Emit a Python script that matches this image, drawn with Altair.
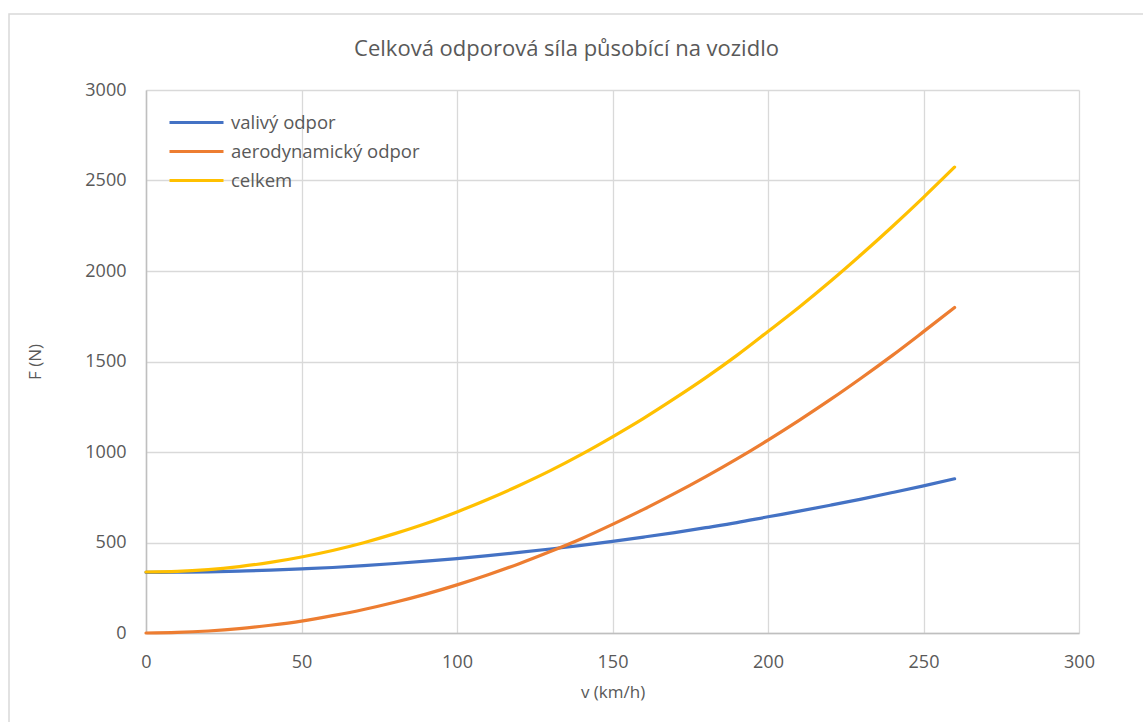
import altair as alt
import pandas as pd

# Speed samples (km/h)
speed = [0, 10, 20, 30, 40, 50, 60, 70, 80, 90, 100, 110, 120, 130,
         140, 150, 160, 170, 180, 190, 200, 210, 220, 230, 240, 250, 260]

# Resistance forces (N)
rolling = [335, 336, 338, 342, 347, 354, 362, 372, 384, 397, 411, 427, 445, 464,
           484, 506, 530, 555, 582, 610, 642, 673, 706, 740, 776, 813, 852]
aero = [0, 3, 11, 24, 43, 66, 96, 130, 170, 215, 266, 322, 383, 450,
        521, 600, 683, 771, 864, 962, 1066, 1175, 1289, 1409, 1534, 1665, 1798]
total = [337, 340, 350, 367, 390, 420, 456, 499, 549, 605, 669, 739, 815, 897,
         987, 1084, 1186, 1296, 1411, 1534, 1666, 1800, 1942, 2091, 2246, 2407, 2574]

series_names = ["valivý odpor", "aerodynamický odpor", "celkem"]
series_colors = ["#4472C4", "#ED7D31", "#FFC000"]

x_ticks = [0, 50, 100, 150, 200, 250, 300]
y_ticks = [0, 500, 1000, 1500, 2000, 2500, 3000]

rows = []
for name, values in zip(series_names, [rolling, aero, total]):
    for v, f in zip(speed, values):
        rows.append({"v": v, "F": f, "series": name, "order": series_names.index(name)})
df = pd.DataFrame(rows)

FONT = "Open Sans"
TXT = "#595959"

lines = alt.Chart(df).mark_line(
    strokeWidth=3.2, interpolate="monotone", strokeCap="round", strokeJoin="round"
).encode(
    x=alt.X("v:Q", title="v (km/h)",
            scale=alt.Scale(domain=[0, 300], nice=False),
            axis=alt.Axis(values=x_ticks, tickSize=0, labelFlush=False,
                          labelPadding=20, titlePadding=13)),
    y=alt.Y("F:Q", title="F (N)",
            scale=alt.Scale(domain=[0, 3000], nice=False),
            axis=alt.Axis(values=y_ticks, tickSize=0, format="d", labelFlush=False,
                          labelPadding=20, titlePadding=40)),
    color=alt.Color("series:N",
                    scale=alt.Scale(domain=series_names, range=series_colors),
                    sort=series_names,
                    legend=alt.Legend(title=None, orient="none", legendX=22, legendY=18,
                                      symbolType="stroke", symbolSize=2916,
                                      symbolStrokeWidth=3, clipHeight=29,
                                      labelFontSize=18.5, labelColor=TXT, labelFont=FONT,
                                      labelLimit=400, labelOffset=6, rowPadding=0)),
    order="order:Q",
    detail="series:N",
)

# Outer chart frame
frame = alt.Chart(pd.DataFrame({"k": [0]})).mark_rect(
    fill=None, stroke="#D9D9D9", strokeWidth=1.5
).encode(
    x=alt.value(-137), x2=alt.value(1010), y=alt.value(-76), y2=alt.value(650)
)

chart = alt.layer(frame, lines).properties(
    width=933, height=543,
    title=alt.TitleParams("Celková odporová síla působící na vozidlo",
                          font=FONT, fontSize=22, fontWeight="normal", color=TXT,
                          anchor="middle", dx=-46, offset=-48),
    autosize=alt.AutoSizeParams(type="none"),
    padding={"left": 146, "top": 90, "right": 64, "bottom": 89},
    background="white",
).configure_view(stroke=None).configure_axis(
    labelFont=FONT, titleFont=FONT, labelFontSize=18, titleFontSize=17,
    labelColor=TXT, titleColor=TXT, titleFontWeight="normal",
    gridColor="#D9D9D9", gridWidth=1.3, domainColor="#BFBFBF", domainWidth=1.5,
)

chart.save("out.html", embed_options={"renderer": "svg", "actions": False})
